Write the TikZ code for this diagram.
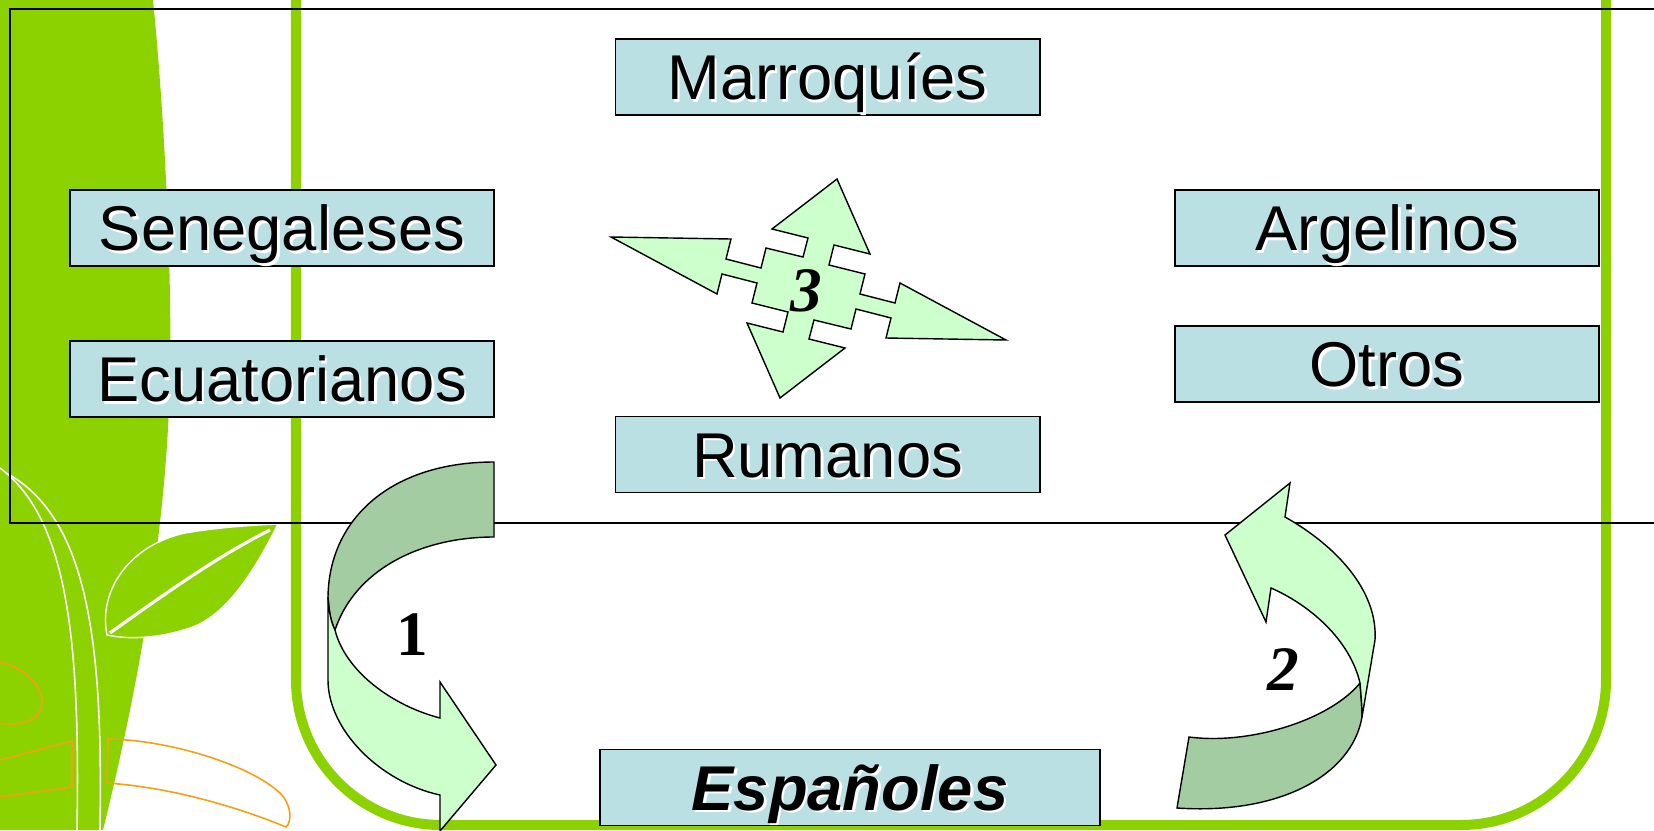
\documentclass[tikz,border=0pt]{standalone}
\usepackage{fontspec}
\setmainfont{Liberation Sans}
\newfontfamily\numfont{Liberation Serif}
\definecolor{verde}{RGB}{140,210,0}
\definecolor{celeste}{RGB}{187,224,227}
\definecolor{menta}{RGB}{204,255,204}
\definecolor{musgo}{RGB}{163,204,163}
\definecolor{naranja}{RGB}{245,160,20}
\newcommand\sombra[1]{\makebox[0pt][l]{\kern0.7pt\raisebox{-0.7pt}{\color{white}#1}}#1}
\begin{document}
\begin{tikzpicture}[x=0.01cm,y=-0.01cm,
    caja/.style={draw=black,line width=0.5pt,fill=celeste,minimum width=4.24cm,minimum height=0.76cm,
      inner sep=0pt,text height=12.9pt,text depth=0pt,font=\fontsize{18}{20}\selectfont},
    flecha/.style={draw=black,line width=0.4pt,line join=miter},
    num/.style={font=\numfont\fontsize{18}{20}\selectfont\bfseries},
    numit/.style={font=\numfont\fontsize{18}{20}\selectfont\bfseries\itshape}]
    \fill[white] (0,0) rectangle (1654,830);
    \useasboundingbox (0,0) rectangle (1654,830);
    \clip (0,0) rectangle (1654,830);
    \fill[verde] (0,0) -- (153,0) .. controls (165,120) and (172,280) .. (170,370)
      .. controls (168,520) and (140,680) .. (103,830) -- (0,830) -- cycle;
    \draw[white,line width=0.45pt] (0,468) .. controls (70,520) and (80,650) .. (77,830);
    \draw[white,line width=0.45pt] (8,474) .. controls (90,520) and (103,650) .. (100,830);
    \draw[white,line width=0.4pt,fill=verde] (107,635) .. controls (98,590) and (130,545) .. (185,533)
      .. controls (220,527) and (255,525) .. (278,524) .. controls (260,560) and (230,615) .. (190,628)
      .. controls (160,638) and (130,640) .. (107,635) -- cycle;
    \draw[white,line width=0.9pt] (110,633) .. controls (170,590) and (220,555) .. (270,530);
    \draw[naranja,line width=0.45pt] (0,662) .. controls (25,668) and (42,685) .. (42,702)
      .. controls (42,718) and (25,727) .. (0,723);
    \draw[naranja,line width=0.45pt] (0,760) -- (72,741) -- (72,787) -- (0,797);
    \draw[naranja,line width=0.45pt] (108,739) .. controls (170,740) and (250,765) .. (280,793)
      .. controls (292,805) and (292,822) .. (286,827) .. controls (250,812) and (180,788) .. (107,783) -- cycle;
    \draw[verde,line width=2.85pt,rounded corners=1.45cm] (296,-20) -- (296,825) -- (1606,825) -- (1606,-20);
    \draw[line width=0.45pt] (10,9) rectangle (1700,523);
    \foreach \nombre/\x/\y/\texto in {marr/827.5/77/Marroquíes, sene/282/228/Senegaleses,
      ecua/282/379/Ecuatorianos, arge/1387/228/Argelinos, otro/1387/364/Otros, ruma/827.5/454.5/Rumanos}
      \node[caja] (\nombre) at (\x,\y) {\sombra{\texto}};
    \node[caja,minimum width=5cm,font=\fontsize{18}{20}\selectfont\bfseries\itshape] (espa) at (850,787.5) {\sombra{Españoles}};
    \draw[flecha,fill=musgo] (494,462) .. controls (392,462) and (329,518) .. (328,597)
      .. controls (329,612) and (331,622) .. (335,630) .. controls (355,570) and (420,537) .. (494,537) -- cycle;
    \draw[flecha,fill=menta] (328,597) -- (328,680) .. controls (328,730) and (380,782) .. (440,795)
      -- (440,831) -- (496,765) -- (440,682) -- (440,718) .. controls (390,705) and (345,670) .. (335,630)
      .. controls (331,622) and (329,612) .. (328,597) -- cycle;
    \draw[flecha,fill=musgo] (1189,737) .. controls (1250,745) and (1330,720) .. (1360,683)
      .. controls (1361,695) and (1362,706) .. (1362,717) .. controls (1352,775) and (1280,815) .. (1177,808) -- cycle;
    \draw[flecha,fill=menta] (1360,683) .. controls (1361,695) and (1362,706) .. (1362,717) -- (1375,640)
      .. controls (1378,590) and (1335,545) .. (1285,517) -- (1290,483) -- (1225,535) -- (1266,622) -- (1271,588)
      .. controls (1310,605) and (1350,640) .. (1360,683) -- cycle;
    \draw[flecha,fill=menta] (611,237) -- (731,239) -- (726,259) -- (761,268) -- (766,248) -- (803,257)
      -- (808,238) -- (772,229) -- (837,179) -- (870,254) -- (834,245) -- (829,265) -- (865,274) -- (860,294)
      -- (895,303) -- (900,283) -- (1006,340) -- (886,338) -- (891,318) -- (856,309) -- (851,329) -- (814,320)
      -- (809,339) -- (845,348) -- (780,398) -- (747,323) -- (783,332) -- (788,312) -- (752,303) -- (757,283)
      -- (722,274) -- (717,294) -- cycle;
    \node[num] (uno) at (412,635) {1};
    \node[numit] (dos) at (1283,670) {2};
    \node[numit] (tres) at (806,291) {3};
\end{tikzpicture}
\end{document}
